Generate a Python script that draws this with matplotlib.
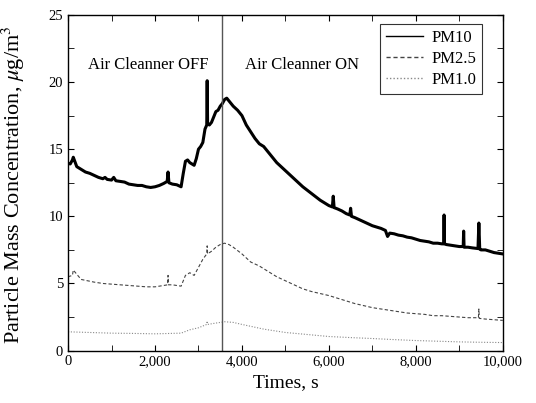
import numpy as np
import matplotlib
matplotlib.use('Agg')
import matplotlib.pyplot as plt
from matplotlib.ticker import MultipleLocator, FuncFormatter

plt.rcParams['font.family'] = ['Liberation Serif', 'DejaVu Serif']
plt.rcParams['mathtext.fontset'] = 'stix'

# PM10 readings (time s, concentration ug/m3)
pm10_t = [0, 50, 100, 120, 200, 300, 400, 500, 600, 700, 800, 850, 900, 1000, 1050, 1100,
          1200, 1300, 1400, 1500, 1600, 1700, 1800, 1900, 2000, 2100, 2200, 2280, 2300, 2320,
          2400, 2500, 2600, 2650, 2700, 2750, 2800, 2850, 2900, 2950, 3000, 3050, 3100, 3150,
          3190, 3200, 3210, 3250, 3300, 3350, 3400, 3450, 3500, 3550, 3600, 3650, 3700, 3800,
          3900, 4000, 4100, 4200, 4300, 4400, 4500, 4600, 4700, 4800, 4900, 5000, 5100, 5200,
          5300, 5400, 5500, 5600, 5700, 5800, 5900, 6000, 6080, 6100, 6120, 6200, 6300, 6400,
          6480, 6500, 6520, 6600, 6700, 6800, 6900, 7000, 7100, 7200, 7300, 7350, 7400, 7500,
          7600, 7700, 7800, 7900, 8000, 8100, 8200, 8300, 8400, 8500, 8600, 8640, 8650, 8660,
          8700, 8800, 8900, 9000, 9090, 9100, 9110, 9200, 9300, 9430, 9450, 9470, 9500, 9600,
          9700, 9800, 9900, 10000]
pm10_v = [13.95, 13.9, 14.2, 14.4, 13.7, 13.5, 13.3, 13.2, 13.05, 12.9, 12.8, 12.9, 12.75, 12.7,
          12.9, 12.65, 12.6, 12.55, 12.4, 12.35, 12.3, 12.3, 12.2, 12.15, 12.2, 12.3, 12.45, 12.6,
          13.3, 12.5, 12.4, 12.35, 12.2, 13.2, 14.1, 14.2, 14.0, 13.9, 13.8, 14.3, 15.0, 15.2,
          15.5, 16.5, 16.8, 20.1, 16.9, 16.8, 17.0, 17.4, 17.8, 17.9, 18.2, 18.4, 18.7, 18.8,
          18.6, 18.2, 17.9, 17.5, 16.8, 16.3, 15.8, 15.4, 15.2, 14.8, 14.4, 14.0, 13.7, 13.4,
          13.1, 12.8, 12.5, 12.2, 11.95, 11.7, 11.45, 11.2, 11.0, 10.8, 10.7, 11.5, 10.65, 10.55,
          10.4, 10.2, 10.1, 10.6, 10.0, 9.9, 9.75, 9.6, 9.45, 9.3, 9.2, 9.1, 8.95, 8.5, 8.75,
          8.7, 8.6, 8.55, 8.45, 8.4, 8.3, 8.2, 8.15, 8.1, 8.0, 8.0, 7.95, 7.95, 10.1, 7.95, 7.9,
          7.85, 7.8, 7.75, 7.75, 8.9, 7.7, 7.7, 7.65, 7.6, 9.5, 7.55, 7.5, 7.5, 7.4, 7.3, 7.25,
          7.2]

# PM2.5 readings
pm25_t = [0, 100, 120, 300, 600, 800, 1000, 1400, 1800, 2000, 2200, 2290, 2300, 2310, 2400,
          2600, 2700, 2800, 2900, 3000, 3100, 3190, 3200, 3210, 3300, 3400, 3500, 3600, 3700,
          3800, 4000, 4200, 4400, 4600, 4800, 5000, 5200, 5400, 5600, 5800, 6000, 6200, 6400,
          6600, 6800, 7000, 7200, 7400, 7600, 7800, 8000, 8200, 8400, 8600, 8800, 9000, 9200,
          9440, 9450, 9460, 9600, 9800, 10000]
pm25_v = [5.5, 5.6, 6.0, 5.3, 5.1, 5.0, 4.95, 4.85, 4.75, 4.75, 4.85, 4.9, 5.6, 4.9, 4.9,
          4.8, 5.6, 5.8, 5.6, 6.2, 6.8, 7.2, 7.8, 7.2, 7.4, 7.7, 7.9, 8.0, 7.9,
          7.7, 7.2, 6.6, 6.3, 5.9, 5.5, 5.2, 4.9, 4.6, 4.4, 4.25, 4.1, 3.9, 3.7,
          3.5, 3.35, 3.2, 3.1, 3.0, 2.9, 2.8, 2.75, 2.7, 2.6, 2.6, 2.55, 2.5, 2.45,
          2.45, 3.1, 2.4, 2.35, 2.3, 2.25]

# PM1.0 readings
pm1_t = [0, 500, 1000, 1500, 2000, 2600, 2800, 3000, 3190, 3200, 3210, 3400, 3600, 3800,
         4000, 4500, 5000, 5500, 6000, 6500, 7000, 7500, 8000, 8500, 9000, 9500, 10000]
pm1_v = [1.4, 1.35, 1.3, 1.28, 1.25, 1.3, 1.55, 1.7, 1.95, 2.2, 1.95, 2.05, 2.15, 2.1,
         1.95, 1.6, 1.35, 1.2, 1.05, 0.97, 0.9, 0.82, 0.75, 0.7, 0.65, 0.62, 0.6]

switch_time = 3550

fig = plt.figure(figsize=(5.36, 4.03), dpi=100)
ax = fig.add_axes([0.127, 0.130, 0.811, 0.833])

ax.plot(pm10_t, pm10_v, color='black', lw=2.2, label='PM10')
ax.plot(pm25_t, pm25_v, color='#444444', lw=0.8, ls=(0, (3, 2)), label='PM2.5')
ax.plot(pm1_t, pm1_v, color='#888888', lw=0.8, ls=(0, (1, 1.5)), label='PM1.0')
ax.axvline(switch_time, color='#555555', lw=1.0)

ax.text(1850, 21.3, 'Air Cleanner OFF', fontsize=12, ha='center', va='center')
ax.text(5370, 21.3, 'Air Cleanner ON', fontsize=12, ha='center', va='center')

ax.set_xlim(0, 10000)
ax.set_ylim(0, 25)
ax.xaxis.set_major_locator(MultipleLocator(2000))
ax.xaxis.set_minor_locator(MultipleLocator(1000))
ax.yaxis.set_major_locator(MultipleLocator(5))
ax.yaxis.set_minor_locator(MultipleLocator(2.5))
ax.xaxis.set_major_formatter(FuncFormatter(lambda v, p: '{:,.0f}'.format(v)))
ax.tick_params(which='both', direction='in', top=True, right=True, labelsize=10.5)
ax.tick_params(which='major', length=4)
ax.tick_params(which='minor', length=4)
for s in ax.spines.values():
    s.set_linewidth(1.0)

ax.set_xlabel('Times, s', fontsize=14)
ax.set_ylabel(r'Particle Mass Concentration, $\mu$g/m$^3$', fontsize=16)
ax.yaxis.set_label_coords(-0.095, 0.494)

leg = ax.legend(loc='upper right', bbox_to_anchor=(0.952, 0.972), fontsize=12,
                frameon=True, fancybox=False, edgecolor='black', handlelength=2.2,
                borderpad=0.35, labelspacing=0.3, handletextpad=0.5, borderaxespad=0)
leg.get_frame().set_linewidth(0.8)
for line in leg.get_lines():
    line.set_linewidth(1.0)

fig.savefig('out.png', dpi=100)
